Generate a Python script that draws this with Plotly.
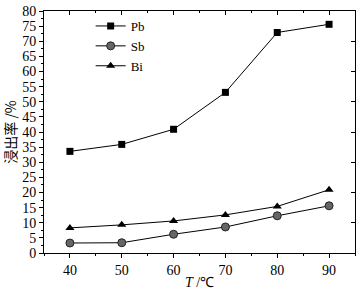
import plotly.graph_objects as go

temps = [40, 50, 60, 70, 80, 90]
pb = [33.6, 35.9, 40.9, 53.1, 72.9, 75.6]
sb = [3.3, 3.4, 6.2, 8.6, 12.3, 15.6]
bi = [8.3, 9.3, 10.6, 12.6, 15.4, 20.9]

fig = go.Figure()
fig.add_trace(go.Scatter(x=temps, y=pb, name="Pb", mode="lines+markers",
                         line=dict(color="black", width=1),
                         marker=dict(symbol="square", size=7, color="black")))
fig.add_trace(go.Scatter(x=temps, y=sb, name="Sb", mode="lines+markers",
                         line=dict(color="black", width=1),
                         marker=dict(symbol="circle", size=8, color="#666666",
                                     line=dict(color="#222222", width=1))))
fig.add_trace(go.Scatter(x=temps, y=bi, name="Bi", mode="lines+markers",
                         line=dict(color="black", width=1),
                         marker=dict(symbol="triangle-up", size=8, color="black")))
# invisible trace for mirrored axes
fig.add_trace(go.Scatter(x=[35], y=[0], xaxis="x2", yaxis="y2", mode="markers",
                         marker=dict(opacity=0), showlegend=False, hoverinfo="skip"))

tickfont = dict(family="Liberation Serif", size=14, color="black")
fig.update_layout(
    width=363, height=295,
    margin=dict(l=44, r=8, t=11, b=42, autoexpand=False),
    paper_bgcolor="white", plot_bgcolor="white",
    font=dict(family="Liberation Serif", color="black"),
    xaxis=dict(range=[35, 95], tickmode="linear", tick0=40, dtick=10,
               ticks="outside", ticklen=4, tickcolor="black", automargin=False,
               minor=dict(ticks="outside", ticklen=2, dtick=5, tick0=35, tickcolor="black"),
               showline=True, linecolor="black", linewidth=1, showgrid=False,
               zeroline=False, tickfont=tickfont,
               title=dict(text="<i>T</i> /℃",
                          font=dict(family="Liberation Serif", size=14, color="black"),
                          standoff=0)),
    yaxis=dict(range=[0, 80], tickmode="linear", tick0=0, dtick=5,
               ticks="outside", ticklen=4, tickcolor="black", automargin=False,
               minor=dict(ticks="outside", ticklen=2, dtick=2.5, tickcolor="black"),
               showline=True, linecolor="black", linewidth=1, showgrid=False,
               zeroline=False, tickfont=tickfont,
               title=dict(text="浸出率 /%",
                          font=dict(family="Noto Sans CJK SC", size=14, color="black"),
                          standoff=4)),
    xaxis2=dict(range=[35, 95], overlaying="x", side="top", tickmode="linear",
                tick0=40, dtick=10, ticks="inside", ticklen=4, tickcolor="black",
                automargin=False,
                minor=dict(ticks="inside", ticklen=2, dtick=5, tick0=35, tickcolor="black"),
                showticklabels=False, showline=True, linecolor="black", linewidth=1,
                showgrid=False, zeroline=False),
    yaxis2=dict(range=[0, 80], overlaying="y", side="right", tickmode="linear",
                tick0=0, dtick=10, ticks="inside", ticklen=4, tickcolor="black",
                automargin=False,
                showticklabels=False, showline=True, linecolor="black", linewidth=1,
                showgrid=False, zeroline=False),
    legend=dict(x=0.15, y=1.0, xanchor="left", yanchor="top",
                bgcolor="rgba(0,0,0,0)",
                font=dict(family="Liberation Serif", size=13, color="black"),
                itemwidth=30, tracegroupgap=0),
    showlegend=True,
)

fig.write_html("out.html", config={"displayModeBar": False},
               post_script="document.body.style.margin='0';document.body.style.overflow='hidden';")
